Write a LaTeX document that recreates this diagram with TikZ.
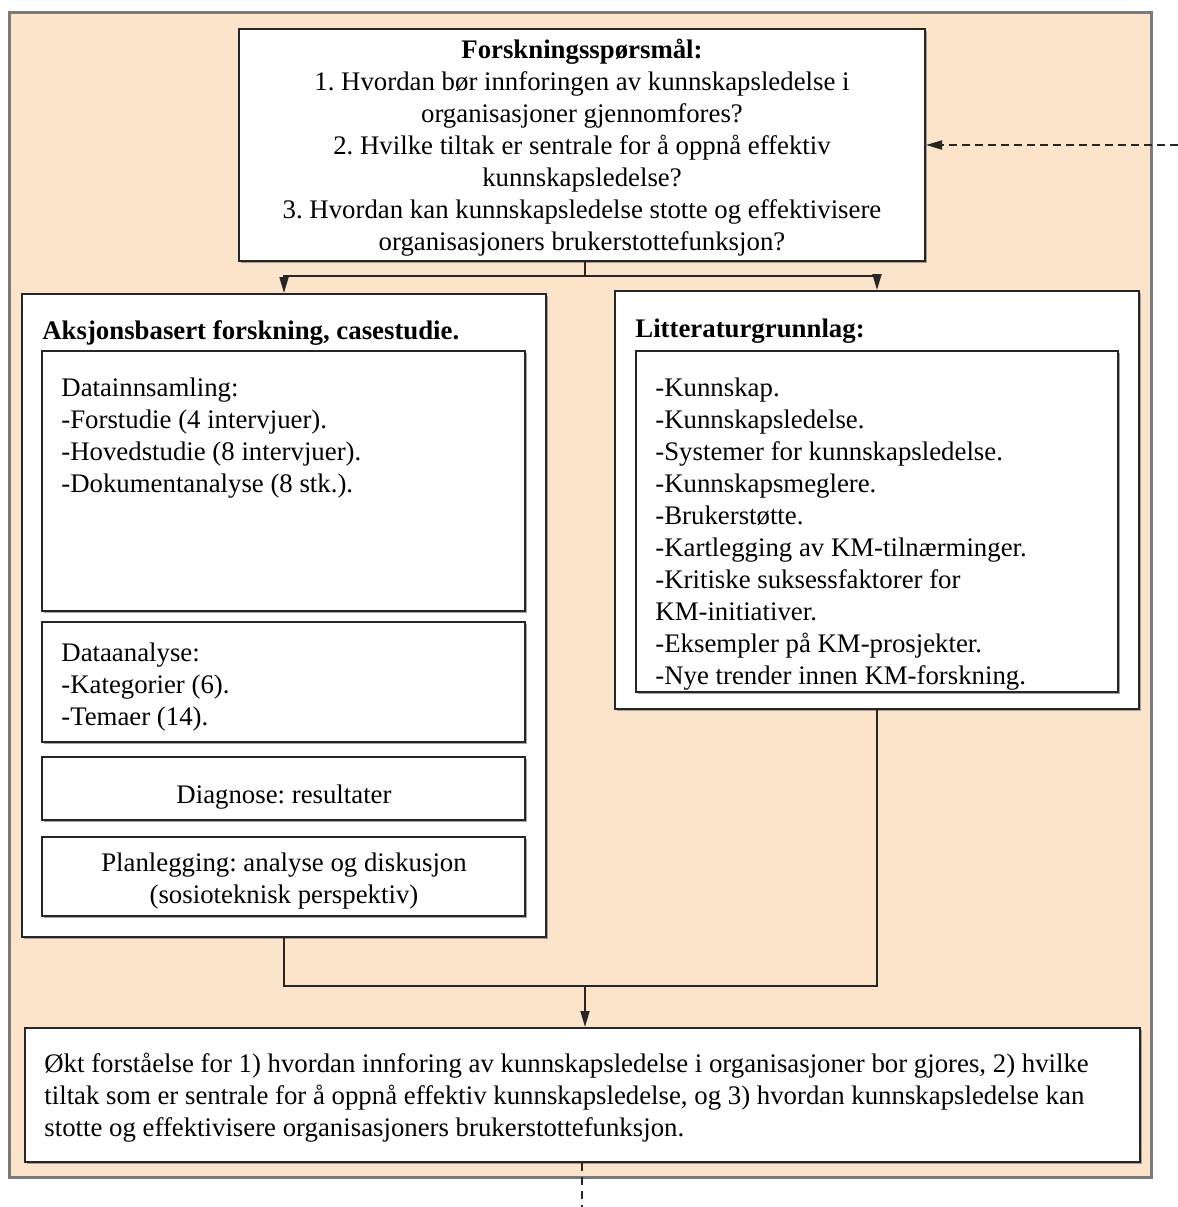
\documentclass[tikz,border=0pt]{standalone}
\usepackage{fontspec}
\setmainfont{Liberation Serif}
\usetikzlibrary{arrows.meta,shadows}
\definecolor{peach}{HTML}{FCE4CB}
\definecolor{frame}{HTML}{7A7A7A}
\frenchspacing
\begin{document}
\begin{tikzpicture}[x=0.5pt,y=-0.5pt,
  font=\fontsize{13.4}{16}\selectfont,
  box/.style={draw=black!85, line width=1pt, fill=white, inner sep=0pt,
    drop shadow={shadow xshift=1pt, shadow yshift=-1pt, fill=black!45, opacity=0.8}},
  txt/.style={inner sep=0pt, anchor=north west, align=left},
  ctxt/.style={inner sep=0pt, anchor=north, align=center},
  link/.style={draw=black!85, line width=0.9pt},
  tip/.style={-{Triangle[length=8pt,width=4.5pt]}}
]
\useasboundingbox (0,0) rectangle (1178,1207);

% outer frame
\node[draw=frame, line width=1.5pt, fill=peach, inner sep=0pt,
  minimum width=571pt, minimum height=582.5pt,
  drop shadow={shadow xshift=1pt, shadow yshift=-1pt, fill=black!40, opacity=0.6}]
  (frame) at (580,594.5) {};

% research questions
\node[box, minimum width=343pt, minimum height=116pt] (top) at (582,145) {};
\node[ctxt] (toptext) at (582,39) {\textbf{Forskningsspørsmål:}\\
  1. Hvordan bør innforingen av kunnskapsledelse i\\
  organisasjoner gjennomfores?\\
  2. Hvilke tiltak er sentrale for å oppnå effektiv\\
  kunnskapsledelse?\\
  3. Hvordan kan kunnskapsledelse stotte og effektivisere\\
  organisasjoners brukerstottefunksjon?};

% action research column
\node[box, minimum width=262pt, minimum height=321.5pt] (left) at (284,615.5) {};
\node[txt] (lefthead) at (42,320) {\textbf{Aksjonsbasert forskning, casestudie.}};
\node[box, minimum width=241.5pt, minimum height=130pt] (collect) at (283.5,481) {};
\node[txt] (collecttext) at (61,377) {Datainnsamling:\\
  -Forstudie (4 intervjuer).\\
  -Hovedstudie (8 intervjuer).\\
  -Dokumentanalyse (8 stk.).};
\node[box, minimum width=241.5pt, minimum height=60pt] (analysis) at (283.5,682) {};
\node[txt] (analysistext) at (61,642) {Dataanalyse:\\
  -Kategorier (6).\\
  -Temaer (14).};
\node[box, minimum width=241.5pt, minimum height=31.5pt] (diag) at (283.5,788.5) {};
\node[ctxt] (diagtext) at (284,784) {Diagnose: resultater};
\node[box, minimum width=241.5pt, minimum height=39.5pt] (plan) at (283.5,876.5) {};
\node[ctxt] (plantext) at (284,852) {Planlegging: analyse og diskusjon\\
  (sosioteknisk perspektiv)};

% literature column
\node[box, minimum width=262pt, minimum height=209pt] (right) at (877,500) {};
\node[txt] (righthead) at (635,318) {\textbf{Litteraturgrunnlag:}};
\node[box, minimum width=241pt, minimum height=170.5pt] (lit) at (877,521.5) {};
\node[txt] (littext) at (655,377) {-Kunnskap.\\
  -Kunnskapsledelse.\\
  -Systemer for kunnskapsledelse.\\
  -Kunnskapsmeglere.\\
  -Brukerstøtte.\\
  -Kartlegging av KM-tilnærminger.\\
  -Kritiske suksessfaktorer for\\
  KM-initiativer.\\
  -Eksempler på KM-prosjekter.\\
  -Nye trender innen KM-forskning.};

% outcome
\node[box, minimum width=557.5pt, minimum height=67pt] (result) at (582.5,1095) {};
\node[txt] (resulttext) at (44,1053) {Økt forståelse for 1) hvordan innforing av kunnskapsledelse i organisasjoner bor gjores, 2) hvilke\\
  tiltak som er sentrale for å oppnå effektiv kunnskapsledelse, og 3) hvordan kunnskapsledelse kan\\
  stotte og effektivisere organisasjoners brukerstottefunksjon.};

% connectors
\coordinate (split) at (585,276);
\coordinate (merge) at (585,986);
\coordinate (feedback) at (1178,145);
\coordinate (onward) at (582,1207);

\draw[link] (top.south -| split) -- (split);
\draw[link, tip] (split) -| (left.north);
\draw[link, tip] (split) -| (right.north);
\draw[link] (left.south) |- (merge) -| (right.south);
\draw[link, tip] (merge) -- (result.north -| merge);
\draw[link, tip, dash pattern=on 4pt off 2.5pt] (feedback) -- (top.east);
\draw[link, dash pattern=on 4pt off 3pt] (result.south -| onward) -- (onward);
\end{tikzpicture}
\end{document}
